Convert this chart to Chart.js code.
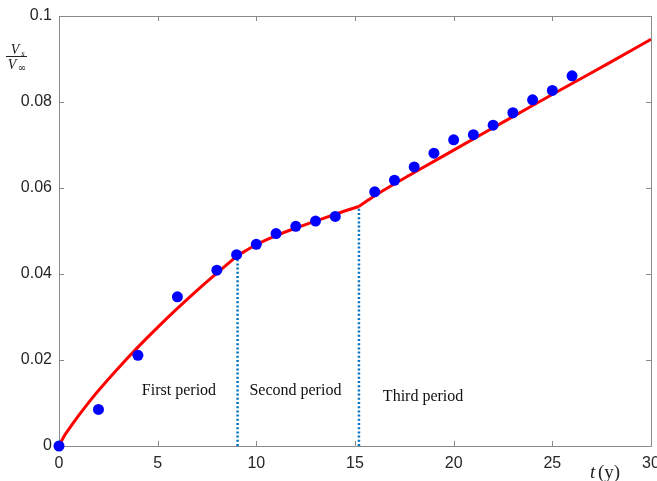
<!DOCTYPE html>
<html>
<head>
<meta charset="utf-8">
<script src="https://cdn.jsdelivr.net/npm/chart.js@4"></script>
<style>
  html, body { margin: 0; padding: 0; background: #fff; }
  #wrap { width: 657px; height: 481px; position: relative; }
</style>
</head>
<body>
<div id="wrap"><canvas id="c" width="657" height="481"></canvas></div>
<script>
// Measured data points (t in years, Vs/Vinf)
const measuredT = [0, 2, 4, 6, 8, 9, 10, 11, 12, 13, 14, 16, 17, 18, 19, 20, 21, 22, 23, 24, 25, 26];
const measuredV = [0, 0.0085, 0.0211, 0.0347, 0.0409, 0.0445, 0.0469, 0.0494, 0.0511, 0.0523, 0.0534, 0.0591, 0.0618, 0.0649, 0.0681, 0.0712, 0.0724, 0.0746, 0.0775, 0.0805, 0.0827, 0.0861];

// Fitted curve, read per period
const period1T = [0, 0.25, 0.5, 1, 1.5, 2, 3, 4, 5, 6, 7, 8, 9.05];
const period1V = [0, 0.0022, 0.0039, 0.0071, 0.0101, 0.0129, 0.0181, 0.0230, 0.0276, 0.0320, 0.0362, 0.0402, 0.0443];
const period2T = [9.05, 10, 11, 12, 13, 14, 15.2];
const period2V = [0.0443, 0.0468, 0.0489, 0.0507, 0.0523, 0.0539, 0.0557];
const period3T = [15.2, 16, 18, 20, 22, 24, 26, 28, 30];
const period3V = [0.0557, 0.0582, 0.0636, 0.0688, 0.0740, 0.0792, 0.0843, 0.0894, 0.0946];

// Period boundaries
const boundaryT = [9.05, 15.2];
const boundaryTop = [0.0443, 0.0555];

// Axis ticks
const xTicks = [0, 5, 10, 15, 20, 25, 30];
const yTicks = [0, 0.02, 0.04, 0.06, 0.08, 0.1];

// Annotations
const periodLabels = ['First period', 'Second period', 'Third period'];
const periodLabelPos = [[6.08, 0.0128], [11.98, 0.0128], [18.45, 0.0114]];

const pts = (xs, ys) => xs.map((x, i) => ({ x: x, y: ys[i] }));

const curveStyle = {
  type: 'line', borderColor: '#ff0000', borderWidth: 3, pointRadius: 0,
  cubicInterpolationMode: 'monotone', fill: false, order: 2
};

const datasets = [
  { type: 'scatter', data: pts(measuredT, measuredV), backgroundColor: '#0000ff', borderColor: '#0000ff',
    pointRadius: 5.5, pointHoverRadius: 5.5, borderWidth: 0, order: 0, clip: false },
  Object.assign({ data: pts(period1T, period1V) }, curveStyle),
  Object.assign({ data: pts(period2T, period2V) }, curveStyle),
  Object.assign({ data: pts(period3T, period3V) }, curveStyle)
];
boundaryT.forEach((t, i) => {
  datasets.push({ type: 'line', data: [{ x: t, y: 0 }, { x: t, y: boundaryTop[i] }],
    borderColor: '#0072bd', borderWidth: 2.5, borderDash: [2, 2.2], pointRadius: 0, order: 3 });
});

const axisColor = '#8a8a8a';
const tickFont = { family: '"Liberation Sans", Arial, sans-serif', size: 16 };

const framePlugin = {
  id: 'frame',
  beforeDatasetsDraw(chart) {
    const ctx = chart.ctx, a = chart.chartArea;
    const xs = chart.scales.x, ys = chart.scales.y;
    ctx.save();
    ctx.strokeStyle = axisColor;
    ctx.lineWidth = 1;
    ctx.beginPath();
    ctx.rect(Math.round(a.left) + 0.5, Math.round(a.top) + 0.5, Math.round(a.right - a.left), Math.round(a.bottom - a.top));
    ctx.stroke();
    const L = 5;
    ctx.beginPath();
    xTicks.forEach(v => {
      const px = Math.round(xs.getPixelForValue(v)) + 0.5;
      ctx.moveTo(px, a.bottom); ctx.lineTo(px, a.bottom - L);
      ctx.moveTo(px, a.top); ctx.lineTo(px, a.top + L);
    });
    yTicks.forEach(v => {
      const py = Math.round(ys.getPixelForValue(v)) + 0.5;
      ctx.moveTo(a.left, py); ctx.lineTo(a.left + L, py);
      ctx.moveTo(a.right, py); ctx.lineTo(a.right - L, py);
    });
    ctx.stroke();
    ctx.restore();
  },
  afterDatasetsDraw(chart) {
    const ctx = chart.ctx;
    const xs = chart.scales.x, ys = chart.scales.y;
    ctx.save();
    // period labels
    ctx.fillStyle = '#111';
    ctx.font = '16px "Liberation Serif", "Times New Roman", serif';
    ctx.textAlign = 'center';
    ctx.textBaseline = 'middle';
    periodLabels.forEach((s, i) => {
      ctx.fillText(s, xs.getPixelForValue(periodLabelPos[i][0]), ys.getPixelForValue(periodLabelPos[i][1]));
    });

    // y axis label: Vs / V∞
    const cx = 16;
    ctx.fillStyle = '#222';
    ctx.textAlign = 'center';
    ctx.textBaseline = 'alphabetic';
    ctx.font = 'italic 14px "Liberation Serif", serif';
    ctx.fillText('V', cx - 1, 54);
    ctx.font = 'italic 9px "Liberation Serif", serif';
    ctx.fillText('s', cx + 7, 56);
    ctx.fillRect(cx - 10, 56, 21, 1);
    ctx.font = 'italic 14px "Liberation Serif", serif';
    ctx.fillText('V', cx - 4, 69);
    ctx.font = '10px "DejaVu Serif", serif';
    ctx.fillText('\u221E', cx + 6, 71);

    // x axis label: t(y)
    ctx.textAlign = 'left';
    ctx.font = 'italic 19px "Liberation Serif", serif';
    ctx.fillText('t', 590, 478);
    ctx.font = '19px "Liberation Serif", serif';
    ctx.fillText('(y)', 598, 478);
    ctx.restore();
  }
};

new Chart(document.getElementById('c'), {
  data: { datasets: datasets },
  plugins: [framePlugin],
  options: {
    responsive: false,
    animation: false,
    events: [],
    layout: { padding: { left: 0, right: 6, top: 16, bottom: 0 } },
    plugins: { legend: { display: false }, tooltip: { enabled: false } },
    scales: {
      x: {
        type: 'linear', min: 0, max: 30,
        afterFit: s => { s.height = 35; s.paddingLeft = 0; s.paddingRight = 0; },
        afterBuildTicks: s => { s.ticks = xTicks.map(v => ({ value: v })); },
        grid: { display: false, drawTicks: false },
        border: { display: false },
        ticks: { color: '#262626', font: tickFont, padding: 8, maxRotation: 0, callback: v => String(v) }
      },
      y: {
        type: 'linear', min: 0, max: 0.1,
        afterFit: s => { s.width = 59; s.paddingTop = 0; s.paddingBottom = 0; },
        afterBuildTicks: s => { s.ticks = yTicks.map(v => ({ value: v })); },
        grid: { display: false, drawTicks: false },
        border: { display: false },
        ticks: { color: '#262626', font: tickFont, padding: 7, callback: v => String(+(+v).toFixed(4)) }
      }
    }
  }
});
</script>
</body>
</html>
